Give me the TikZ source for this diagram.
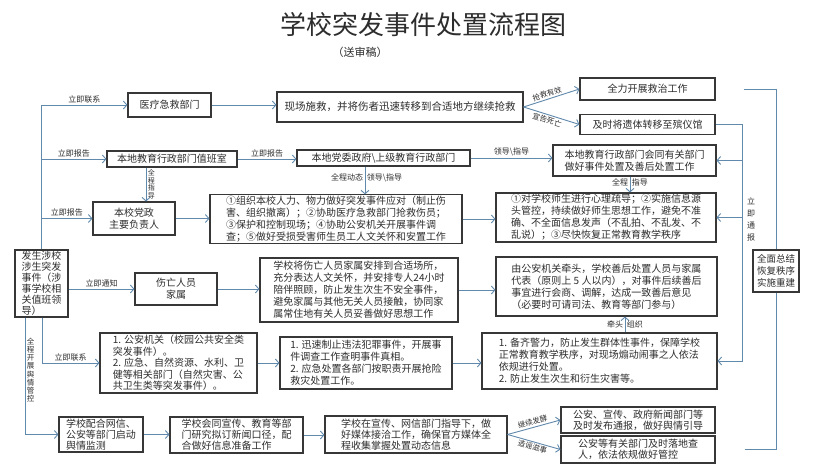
\documentclass[tikz,border=0pt]{standalone}
\usepackage{fontspec}
\setmainfont{Noto Sans CJK SC}
\usetikzlibrary{arrows.meta}
\definecolor{lineblue}{RGB}{96,137,172}
\definecolor{boxgray}{RGB}{55,55,55}
\definecolor{txtgray}{RGB}{45,45,45}
\begin{document}
\begin{tikzpicture}[x=1pt,y=-1pt,>={Straight Barb[length=3.5pt,width=8pt]},
    every node/.append style={text=txtgray,font=\fontsize{10}{12}\selectfont},
    blk/.style={draw=boxgray,line width=1.1pt,rectangle,align=left,inner sep=1pt},
    lbl/.style={font=\fontsize{8}{9}\selectfont,inner sep=1.5pt},
    link/.style={draw=lineblue,line width=0.9pt}]
      \useasboundingbox (0,0) rectangle (815,470);
      \fill[white] (0,0) rectangle (815,470);

      \node[font=\fontsize{26}{30}\selectfont] (Title) at (423,25) {学校突发事件处置流程图};
      \node[font=\fontsize{11}{13}\selectfont] (Sub) at (360,52) {（送审稿）};

      \node[blk,minimum width=83pt,minimum height=24pt] (Medical) at (169.5,105) {医疗急救部门};
      \node[blk,minimum width=246pt,minimum height=30pt,font=\fontsize{10.5}{12}\selectfont] (Rescue) at (400,107) {现场施救，并将伤者迅速转移到合适地方继续抢救};
      \node[blk,minimum width=135pt,minimum height=22pt] (Treat) at (647.5,89) {全力开展救治工作};
      \node[blk,minimum width=135pt,minimum height=20pt] (Funeral) at (647.5,124.5) {及时将遗体转移至殡仪馆};
      \node[blk,minimum width=130pt,minimum height=16pt] (DutyRoom) at (172,159) {本地教育行政部门值班室};
      \node[blk,minimum width=173pt,minimum height=16pt] (Gov) at (383.5,158) {本地党委政府\textbackslash 上级教育行政部门};
      \node[blk,minimum width=163pt,minimum height=31pt] (Coord) at (634.5,160.5) {本地教育行政部门会同有关部门\\做好事件处置及善后处置工作};
      \node[blk,align=center,minimum width=82pt,minimum height=33pt] (Leader) at (134,218.5) {本校党政\\主要负责人};
      \node[blk,minimum width=252pt,minimum height=48pt] (Measures) at (336,219) {①组织本校人力、物力做好突发事件应对（制止伤\\害、组织撤离）；②协助医疗急救部门抢救伤员；\\③保护和控制现场；④协助公安机关开展事件调\\查；⑤做好受损受害师生员工人文关怀和安置工作};
      \node[blk,minimum width=220pt,minimum height=49pt] (Counsel) at (606,217.5) {①对学校师生进行心理疏导；②实施信息源\\头管控，持续做好师生思想工作，避免不准\\确、不全面信息发声（不乱拍、不乱发、不\\乱说）；③尽快恢复正常教育教学秩序};
      \node[blk,minimum width=53pt,minimum height=67pt,font=\fontsize{10}{11}\selectfont] (Start) at (41.5,283.5) {发生涉校\\涉生突发\\事件（涉\\事学校相\\关值班领\\导）};
      \node[blk,align=center,minimum width=82pt,minimum height=32pt] (Family) at (176,289) {伤亡人员\\家属};
      \node[blk,minimum width=198pt,minimum height=64pt] (Comfort) at (359,290) {学校将伤亡人员家属安排到合适场所，\\充分表达人文关怀，并安排专人24小时\\陪伴照顾，防止发生次生不安全事件，\\避免家属与其他无关人员接触，协同家\\属常住地有关人员妥善做好思想工作};
      \node[blk,minimum width=221pt,minimum height=59pt] (Negotiate) at (606.5,286.5) {由公安机关牵头，学校善后处置人员与家属\\代表（原则上 5 人以内），对事件后续善后\\事宜进行会商、调解，达成一致善后意见\\（必要时可请司法、教育等部门参与）};
      \node[blk,align=center,minimum width=46pt,minimum height=42pt,font=\fontsize{9.5}{12}\selectfont] (Summary) at (776,271) {全面总结\\恢复秩序\\实施重建};
      \node[blk,minimum width=157pt,minimum height=60pt,font=\fontsize{10}{11.5}\selectfont] (Police) at (178.5,363) {1. 公安机关（校园公共安全类\\突发事件）。\\2. 应急、自然资源、水利、卫\\健等相关部门（自然灾害、公\\共卫生类等突发事件）。};
      \node[blk,minimum width=172pt,minimum height=52pt] (Stop) at (366,363) {1. 迅速制止违法犯罪事件，开展事\\件调查工作查明事件真相。\\2. 应急处置各部门按职责开展抢险\\救灾处置工作。};
      \node[blk,minimum width=235pt,minimum height=56pt] (Guard) at (599.5,361) {1. 备齐警力，防止发生群体性事件，保障学校\\正常教育教学秩序，对现场煽动闹事之人依法\\依规进行处置。\\2. 防止发生次生和衍生灾害等。};
      \node[blk,minimum width=84pt,minimum height=35pt,font=\fontsize{10}{11}\selectfont] (Monitor) at (101,434.5) {学校配合网信、\\公安等部门启动\\舆情监测};
      \node[blk,minimum width=133pt,minimum height=36pt,font=\fontsize{10}{11}\selectfont] (Caliber) at (236.5,435) {学校会同宣传、教育等部\\门研究拟订新闻口径，配\\合做好信息准备工作};
      \node[blk,minimum width=182pt,minimum height=37pt,font=\fontsize{10}{11}\selectfont] (Media) at (416,434.5) {学校在宣传、网信部门指导下，做\\好媒体接洽工作，确保官方媒体全\\程收集掌握处置动态信息};
      \node[blk,minimum width=154pt,minimum height=26pt,font=\fontsize{10}{11}\selectfont] (Release) at (638,420) {公安、宣传、政府新闻部门等\\及时发布通报，做好舆情引导};
      \node[blk,minimum width=154pt,minimum height=27pt,font=\fontsize{10}{11}\selectfont] (Control) at (638,449.5) {公安等有关部门及时落地查\\人，依法依规做好管控};

      \draw[link] (Start.north) -- (Start.north |- Medical.west);
      \draw[link,->] (Start.north |- Medical.west) -- node[lbl,above] {立即联系} (Medical.west);
      \draw[link,->] (Start.north |- DutyRoom.west) -- node[lbl,above] {立即报告} (DutyRoom.west);
      \draw[link,->] (Start.north |- Leader.west) -- node[lbl,above] {立即报告} (Leader.west);

      \draw[link,->] (Medical.east) -- (Medical.east -| Rescue.west);
      \draw[link,->] (Rescue.east) -- node[lbl,sloped,above,pos=0.45,font=\fontsize{7.5}{8}\selectfont] {抢救有效} (Treat.west);
      \draw[link,->] (Rescue.east) -- node[lbl,sloped,below,pos=0.45,font=\fontsize{7.5}{8}\selectfont] {宣告死亡} (Funeral.west);
      \draw[link,->] (DutyRoom.east) -- node[lbl,above] {立即报告} (DutyRoom.east -| Gov.west);
      \draw[link,->] (Gov.east) -- node[lbl,above] {领导\textbackslash 指导} (Gov.east -| Coord.west);
      \draw[link,->] ([xshift=-18.5pt]Gov.south) -- node[lbl,left,pos=0.4] {全程动态} node[lbl,right,pos=0.4] {领导\textbackslash 指导} ([xshift=-18.5pt]Gov.south |- Measures.north);
      \draw[link,->] ([xshift=-26pt]DutyRoom.south) -- node[lbl,right,align=center,font=\fontsize{7}{7.5}\selectfont] {全\\程\\指\\导} ([xshift=-26pt]DutyRoom.south |- Leader.north);
      \draw[link,->] (Leader.east) -- (Leader.east -| Measures.west);
      \draw[link,->] (Measures.east) -- (Measures.east -| Counsel.west);
      \draw[link,->] ([xshift=-4.5pt]Coord.south) -- node[lbl,left,pos=0.4] {全程} node[lbl,right,pos=0.4] {指导} ([xshift=-4.5pt]Coord.south |- Counsel.north);

      \draw[link,->] (Start.east |- Family.west) -- node[lbl,above] {立即通知} (Family.west);
      \draw[link,->] (Family.east) -- (Family.east -| Comfort.west);
      \draw[link,->] (Comfort.east) -- (Comfort.east -| Negotiate.west);

      \draw[link,->] ([xshift=0.5pt]Start.south) |- node[lbl,above,pos=0.75] {立即联系} (Police.west);
      \draw[link,->] ([xshift=-16.5pt]Start.south) |- node[lbl,right,pos=0.225,align=center,font=\fontsize{7.5}{8.2}\selectfont] {全\\程\\开\\展\\舆\\情\\管\\控} (Monitor.west);
      \draw[link,->] (Police.east) -- (Police.east -| Stop.west);
      \draw[link,->] (Stop.east) -- (Stop.east -| Guard.west);
      \draw[link,->] ([xshift=25.5pt]Guard.north) -- node[lbl,left] {牵头} node[lbl,right] {组织} ([xshift=25.5pt]Guard.north |- Negotiate.south);

      \draw[link,->] (Monitor.east) -- (Monitor.east -| Caliber.west);
      \draw[link,->] (Caliber.east) -- (Caliber.east -| Media.west);
      \draw[link,->] (Media.east) -- node[lbl,sloped,above,font=\fontsize{7.5}{8}\selectfont] {继续发酵} (Release.west);
      \draw[link,->] (Media.east) -- node[lbl,sloped,below,font=\fontsize{7.5}{8}\selectfont] {造谣滋事} (Control.west);

      \draw[link,->] (Funeral.east) -- ++(26.5,0) coordinate (Notify) |- (Guard.east);
      \draw[link,->] (Notify |- Coord.east) -- (Coord.east);
      \draw[link,->] (Notify |- Counsel.east) -- (Counsel.east);
      \node[lbl,align=center,font=\fontsize{8}{12}\selectfont] (NotifyLbl) at (751,219) {立\\即\\通\\报};

      \draw[link] ([xshift=28pt]Treat.east) -| (Summary.north);
      \draw[link] (Summary.south) |- ([xshift=29pt]Control.east);
    \end{tikzpicture}
\end{document}
